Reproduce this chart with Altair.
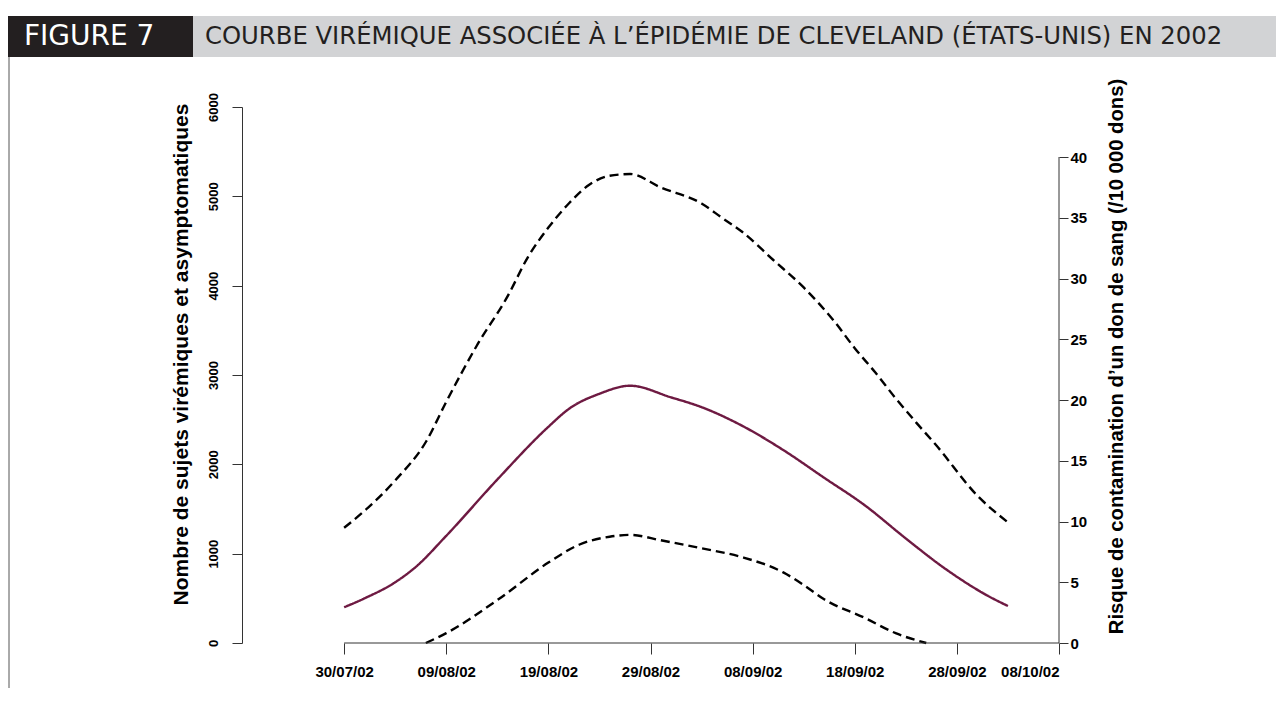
import altair as alt
import pandas as pd

# ---- data ----
est_dates = ["30/07/02", "01/08/02", "04/08/02", "06/08/02", "09/08/02", "14/08/02", "19/08/02",
             "21/08/02", "24/08/02", "27/08/02", "31/08/02", "03/09/02", "07/09/02", "11/09/02",
             "15/09/02", "19/09/02", "23/09/02", "27/09/02", "01/10/02", "03/10/02"]
est_values = [400, 500, 680, 850, 1200, 1830, 2420, 2620, 2790, 2880, 2750, 2640, 2430, 2160,
              1850, 1540, 1170, 820, 530, 414]

up_dates = ["30/07/02", "01/08/02", "04/08/02", "07/08/02", "09/08/02", "12/08/02", "15/08/02",
            "17/08/02", "19/08/02", "21/08/02", "23/08/02", "25/08/02", "27/08/02", "30/08/02",
            "03/09/02", "05/09/02", "07/09/02", "10/09/02", "13/09/02", "16/09/02", "18/09/02",
            "20/09/02", "22/09/02", "24/09/02", "26/09/02", "30/09/02", "03/10/02"]
up_values = [1290, 1480, 1820, 2250, 2700, 3330, 3880, 4320, 4650, 4920, 5130, 5230, 5250, 5100,
             4920, 4760, 4600, 4290, 3980, 3600, 3300, 3030, 2740, 2470, 2210, 1650, 1350]

low_dates = ["07/08/02", "09/08/02", "14/08/02", "19/08/02", "22/08/02", "25/08/02", "27/08/02",
             "30/08/02", "03/09/02", "07/09/02", "11/09/02", "13/09/02", "15/09/02", "19/09/02",
             "22/09/02", "25/09/02"]
low_values = [0, 110, 480, 900, 1100, 1190, 1210, 1150, 1060, 960, 790, 650, 490, 280, 110, 0]

x_tick_labels = ["30/07/02", "09/08/02", "19/08/02", "29/08/02", "08/09/02", "18/09/02",
                 "28/09/02", "08/10/02"]
left_ticks = [0, 1000, 2000, 3000, 4000, 5000, 6000]
right_ticks = [0, 5, 10, 15, 20, 25, 30, 35, 40]

header_label = "FIGURE 7"
header_title = "COURBE VIRÉMIQUE ASSOCIÉE À L’ÉPIDÉMIE DE CLEVELAND (ÉTATS-UNIS) EN 2002"
left_title = "Nombre de sujets virémiques et asymptomatiques"
right_title = "Risque de contamination d’un don de sang (/10 000 dons)"

# ---- build table ----
start = pd.to_datetime("30/07/02", format="%d/%m/%y")


def days(ds):
    return [(pd.to_datetime(d, format="%d/%m/%y") - start).days for d in ds]


frames = []
for name, style, ds, vs in [("upper", "bound", up_dates, up_values),
                            ("lower", "bound", low_dates, low_values),
                            ("estimate", "estimate", est_dates, est_values)]:
    frames.append(pd.DataFrame({"day": days(ds), "value": vs, "series": name, "style": style}))
df = pd.concat(frames, ignore_index=True)

x_tick_days = days(x_tick_labels)
label_expr = "[" + ",".join("'%s'" % s for s in x_tick_labels) + "][round(datum.value/10)]"

W, H = 817, 536
AX = "#333333"
NUM_FONT = "Liberation Sans, Arial, sans-serif"
TITLE_FONT = "Liberation Sans, Arial, sans-serif"
HEAD_FONT = "DejaVu Sans, sans-serif"

xscale = alt.Scale(domain=[-10, 70], nice=False, zero=False)

lines = alt.Chart(df).mark_line(strokeWidth=2.4, interpolate="monotone").encode(
    x=alt.X("day:Q", scale=xscale,
            axis=alt.Axis(values=x_tick_days, labelExpr=label_expr, domain=False, grid=False,
                          tickSize=11, tickColor=AX, tickWidth=1, labelPadding=10,
                          labelFont=NUM_FONT, labelFontSize=15, labelFontWeight="bold",
                          labelColor="black", title=None)),
    y=alt.Y("value:Q", scale=alt.Scale(domain=[0, 6000], nice=False),
            axis=alt.Axis(values=left_ticks, format="d", grid=False, domainColor=AX,
                          tickColor=AX, tickSize=10, labelAngle=-90, labelAlign="center",
                          labelBaseline="bottom", labelPadding=12, labelFont=TITLE_FONT,
                          labelFontSize=13, labelFontWeight="bold", labelColor="black",
                          title=left_title, titleFont=TITLE_FONT, titleFontSize=21,
                          titleFontWeight="bold", titleColor="black", titleAngle=-90,
                          titleAlign="center", titleBaseline="middle",
                          titleX=-61, titleY=247)),
    color=alt.Color("style:N", scale=alt.Scale(domain=["estimate", "bound"],
                                               range=["#6e1a42", "black"]), legend=None),
    strokeDash=alt.StrokeDash("style:N", scale=alt.Scale(domain=["estimate", "bound"],
                                                         range=[[1, 0], [9, 5]]), legend=None),
    detail="series:N",
)

one = pd.DataFrame({"a": [0]})

# x axis line from first to last tick
xline = alt.Chart(one).mark_rule(color=AX, strokeWidth=1).encode(
    x=alt.datum(x_tick_days[0], scale=xscale),
    x2=alt.datum(x_tick_days[-1]),
    y=alt.value(H),
)

# right axis (risk) : 0..40 occupies the lower part of the plot
r_max = 40 * 536 / 486
right = alt.Chart(one).mark_rule(color=AX, strokeWidth=1).encode(
    x=alt.datum(x_tick_days[-1], scale=xscale),
    y=alt.datum(0, scale=alt.Scale(domain=[0, r_max], nice=False),
                axis=alt.Axis(orient="right", values=right_ticks, domain=False, grid=False,
                              tickColor=AX, tickSize=9, labelPadding=2, labelFont=NUM_FONT,
                              labelFontSize=15, labelFontWeight="bold", labelColor="black",
                              title=right_title, titleFont=TITLE_FONT, titleFontSize=20.3,
                              titleFontWeight="bold", titleColor="black", titleAngle=-90,
                              titleAlign="center", titleBaseline="middle",
                              titleX=57, titleY=249)),
    y2=alt.datum(40),
)

# header band
band = alt.Chart(one).mark_rect(color="#d2d3d5").encode(
    x=alt.value(-234), x2=alt.value(1034), y=alt.value(-91), y2=alt.value(-50))
dark = alt.Chart(one).mark_rect(color="#231f20").encode(
    x=alt.value(-234), x2=alt.value(-49), y=alt.value(-91), y2=alt.value(-50))
border = alt.Chart(one).mark_rule(color="#555555", strokeWidth=1).encode(
    x=alt.value(-233), y=alt.value(-50), y2=alt.value(H + 45))
htext1 = alt.Chart(one).mark_text(text=header_label, color="white", font=HEAD_FONT,
                                  fontSize=28, align="left", baseline="middle").encode(
    x=alt.value(-218), y=alt.value(-70))
htext2 = alt.Chart(one).mark_text(text=header_title, color="#231f20", font=HEAD_FONT,
                                  fontSize=24.3, align="left", baseline="middle").encode(
    x=alt.value(-37), y=alt.value(-70))

chart = alt.layer(lines, right, xline, band, dark, border, htext1, htext2).resolve_scale(
    y="independent"
).properties(
    width=W, height=H,
    autosize=alt.AutoSizeParams(type="none"),
    padding={"left": 234, "top": 99, "right": 217, "bottom": 45},
    background="white",
).configure_view(stroke=None)

chart.save("out.html", embed_options={"renderer": "svg", "actions": False})
